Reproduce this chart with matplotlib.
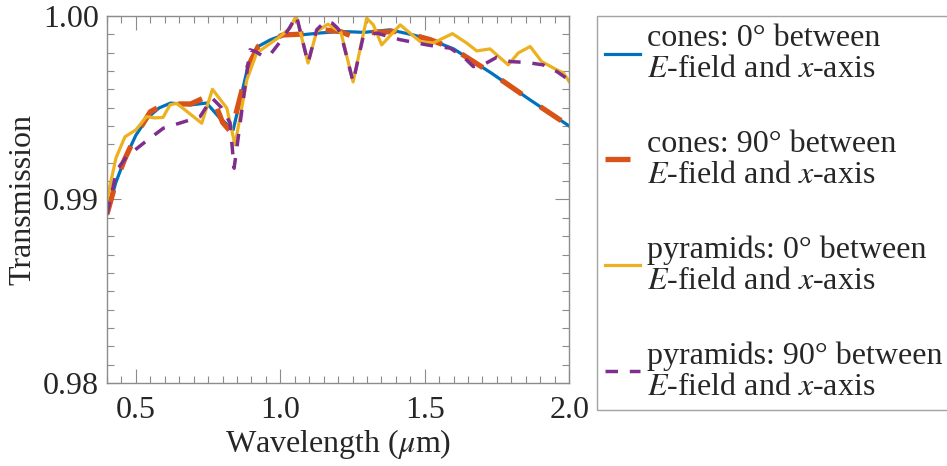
import matplotlib
matplotlib.use("Agg")
import matplotlib.pyplot as plt
from matplotlib.ticker import MultipleLocator, FormatStrFormatter

plt.rcParams['font.family'] = ['Liberation Serif', 'DejaVu Serif']
plt.rcParams['mathtext.fontset'] = 'stix'
plt.rcParams['lines.scale_dashes'] = False

# cones, E-field at 0 deg to x-axis
wl_c0 = [0.40, 0.43, 0.46, 0.50, 0.54, 0.58, 0.62, 0.69, 0.745, 0.79, 0.837, 0.888,
         0.923, 0.965, 1.01, 1.07, 1.14, 1.21, 1.29, 1.38, 1.46, 1.52, 1.60, 1.73,
         1.865, 2.0]
tr_c0 = [0.9892, 0.9909, 0.99215, 0.9935, 0.99444, 0.99498, 0.99525, 0.99515, 0.99525,
         0.99444, 0.9938, 0.99724, 0.99833, 0.99869, 0.99896, 0.99896, 0.99907, 0.99915,
         0.9991, 0.99924, 0.99896, 0.9987, 0.9982, 0.99689, 0.99542, 0.9940]

# cones, 90 deg
wl_c90 = [0.40, 0.43, 0.46, 0.50, 0.55, 0.60, 0.69, 0.745, 0.77, 0.80, 0.83, 0.888,
          0.923, 0.965, 1.01, 1.07, 1.147, 1.207, 1.242, 1.287, 1.40, 1.46, 1.52, 1.60,
          1.73, 1.865, 2.0]
tr_c90 = [0.9892, 0.9909, 0.99215, 0.9935, 0.99478, 0.9952, 0.9952, 0.9956, 0.9954,
          0.9942, 0.99365, 0.99724, 0.99833, 0.99869, 0.99896, 0.99900, 0.99924, 0.99915,
          0.99893, 0.99907, 0.99915, 0.99896, 0.9987, 0.9982, 0.99689, 0.99542, 0.9940]

# pyramids, 0 deg
wl_p0 = [0.40, 0.431, 0.462, 0.50, 0.537, 0.566, 0.594, 0.618, 0.641, 0.728, 0.765,
         0.815, 0.843, 0.884, 0.918, 0.958, 0.999, 1.034, 1.055, 1.096, 1.126, 1.165,
         1.21, 1.252, 1.299, 1.322, 1.351, 1.415, 1.484, 1.529, 1.596, 1.646, 1.680,
         1.726, 1.789, 1.824, 1.865, 1.905, 1.957, 1.98, 2.0]
tr_p0 = [0.9900, 0.99226, 0.99341, 0.99379, 0.99451, 0.99444, 0.99447, 0.99515, 0.99524,
         0.99415, 0.99600, 0.99497, 0.99297, 0.99651, 0.99797, 0.99842, 0.99887, 0.99934,
         1.0000, 0.99743, 0.99915, 0.99955, 0.9991, 0.99640, 0.99987, 0.99951, 0.99842,
         0.99951, 0.9986, 0.99852, 0.99903, 0.99851, 0.99809, 0.9982, 0.99733, 0.99798,
         0.99833, 0.99751, 0.99706, 0.99689, 0.99642]

# pyramids, 90 deg
wl_p90 = [0.40, 0.434, 0.468, 0.526, 0.595, 0.687, 0.722, 0.764, 0.797, 0.826, 0.840,
          0.895, 0.915, 0.94, 0.964, 1.0, 1.03, 1.056, 1.096, 1.126, 1.155, 1.18, 1.20,
          1.215, 1.252, 1.287, 1.334, 1.356, 1.415, 1.507, 1.542, 1.588, 1.633, 1.668,
          1.702, 1.75, 1.796, 1.853, 1.91, 1.957, 2.0]
tr_p90 = [0.9892, 0.99161, 0.99233, 0.99306, 0.99388, 0.99433, 0.99451, 0.99552, 0.99499,
          0.99417, 0.9917, 0.99815, 0.99805, 0.9978, 0.99787, 0.9986, 0.9993, 1.0000,
          0.99743, 0.99924, 0.99969, 0.9996, 0.9993, 0.9987, 0.9964, 0.99887, 0.99906,
          0.99896, 0.9987, 0.99842, 0.99833, 0.99824, 0.99778, 0.99724, 0.99733, 0.99775,
          0.99751, 0.99746, 0.99733, 0.99697, 0.9965]

labels = ["cones: 0\u00b0 between\n$E$-field and $x$-axis",
          "cones: 90\u00b0 between\n$E$-field and $x$-axis",
          "pyramids: 0\u00b0 between\n$E$-field and $x$-axis",
          "pyramids: 90\u00b0 between\n$E$-field and $x$-axis"]

fs = 23
fig = plt.figure(figsize=(9.47, 4.66), dpi=100)
ax = fig.add_axes([0.113, 0.178, 0.488, 0.788])

ax.plot(wl_c0, tr_c0, color='#0072BD', lw=2.3, label=labels[0])
ax.plot(wl_c90, tr_c90, color='#D95319', lw=3.8, dashes=(18, 16), label=labels[1])
ax.plot(wl_p0, tr_p0, color='#EDB120', lw=2.3, label=labels[2])
ax.plot(wl_p90, tr_p90, color='#7E2F8E', lw=2.5, dashes=(9, 8.5), label=labels[3])

ax.set_xlim(0.4, 2.0)
ax.set_ylim(0.98, 1.0)
ax.xaxis.set_major_locator(MultipleLocator(0.5))
ax.xaxis.set_minor_locator(MultipleLocator(0.05))
ax.xaxis.set_major_formatter(FormatStrFormatter('%.1f'))
ax.yaxis.set_major_locator(MultipleLocator(0.01))
ax.yaxis.set_minor_locator(MultipleLocator(0.001))
ax.yaxis.set_major_formatter(FormatStrFormatter('%.2f'))

gray = '#8c8c8c'
for s in ax.spines.values():
    s.set_color(gray)
    s.set_linewidth(1.0)
ax.tick_params(which='both', direction='in', top=True, right=True, color=gray,
               width=0.8, labelsize=fs, labelcolor='#262626')
ax.tick_params(which='major', length=10)
ax.tick_params(which='minor', length=5)
ax.tick_params(axis='x', pad=9)
ax.tick_params(axis='y', pad=6)

ax.set_xlabel('Wavelength ($\\mu$m)', fontsize=fs, color='#262626', labelpad=2)
ax.set_ylabel('Transmission', fontsize=fs, color='#262626', labelpad=4)

leg = fig.legend(loc='upper left', bbox_to_anchor=(0.6304, 0.9657), fontsize=fs,
                 frameon=True, fancybox=False, edgecolor=gray, handlelength=1.1,
                 handletextpad=0.2, borderpad=0.25, labelspacing=1.42, borderaxespad=0)
leg.get_frame().set_linewidth(1.0)
for t in leg.get_texts():
    t.set_linespacing(1.1)
    t.set_color('#262626')

fig.savefig('out.png', dpi=100)
